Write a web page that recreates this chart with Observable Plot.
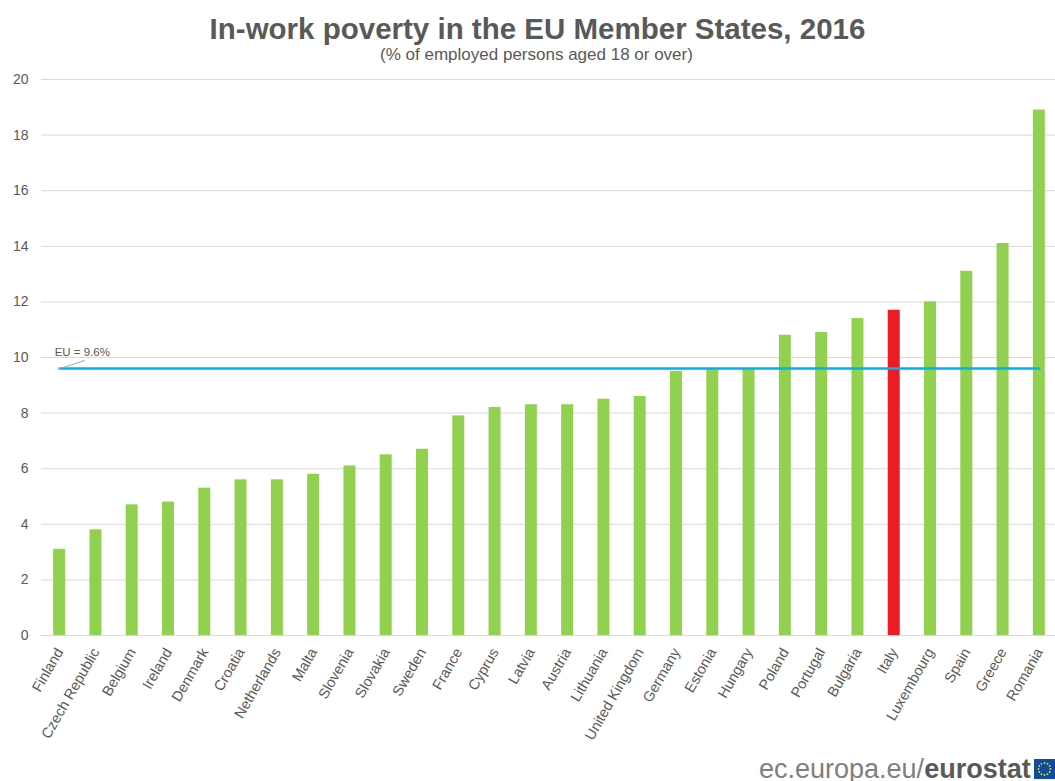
<!DOCTYPE html>
<html><head><meta charset="utf-8">
<script src="https://cdn.jsdelivr.net/npm/d3@7"></script>
<script src="https://cdn.jsdelivr.net/npm/@observablehq/plot@0.6"></script>
<style>
html,body{margin:0;padding:0;background:#fff;overflow:hidden}
body{width:1055px;height:781px;position:relative;font-family:"Liberation Sans",Arial,sans-serif;color:#595959}
#title{position:absolute;left:0;width:1075px;top:11px;text-align:center;font-weight:bold;font-size:29.5px;line-height:36px;white-space:nowrap}
#sub{position:absolute;left:0;width:1073px;top:45px;text-align:center;font-size:17px;line-height:20px;white-space:nowrap}
#chart{position:absolute;left:0;top:65px}
#foot{position:absolute;left:759px;top:752px;font-size:27px;line-height:34px;white-space:nowrap;color:#7f7f7f}
#foot b{color:#595959}
#flag{position:absolute;left:1034px;top:759px}
</style></head><body>
<div id="title">In-work poverty in the EU Member States, 2016</div>
<div id="sub">(% of employed persons aged 18 or over)</div>
<div id="chart"></div>
<div id="foot">ec.europa.eu/<b>eurostat</b></div>
<svg id="flag" width="21" height="20" viewBox="0 0 21 20">
<rect width="21" height="20" fill="#0f4c9e"/>
<g fill="#f5d90a" id="stars"></g>
</svg>
<script>
const countries = ["Finland","Czech Republic","Belgium","Ireland","Denmark","Croatia","Netherlands","Malta","Slovenia","Slovakia","Sweden","France","Cyprus","Latvia","Austria","Lithuania","United Kingdom","Germany","Estonia","Hungary","Poland","Portugal","Bulgaria","Italy","Luxembourg","Spain","Greece","Romania"];
const values = [3.1,3.8,4.7,4.8,5.3,5.6,5.6,5.8,6.1,6.5,6.7,7.9,8.2,8.3,8.3,8.5,8.6,9.5,9.6,9.6,10.8,10.9,11.4,11.7,12.0,13.1,14.1,18.9];
const euValue = 9.6;
const highlight = "Italy";
const yTicks = [0,2,4,6,8,10,12,14,16,18,20];

const rows = countries.map((c,i)=>({country:c,value:values[i]}));
const ends = [countries[0],countries[countries.length-1]].map(c=>({country:c,value:euValue}));
const leaderShape = {draw(ctx,l){ctx.moveTo(0,0);ctx.lineTo(0,-l);}};

const chart = Plot.plot({
  width:1055,height:690,
  marginTop:14,marginBottom:120,marginLeft:41,marginRight:0,
  style:{fontFamily:'"Liberation Sans",Arial,sans-serif',color:"#595959",background:"#fff"},
  x:{domain:countries,range:[41,1057],paddingInner:0.67,paddingOuter:0.335,align:0.5,round:false,label:null},
  y:{domain:[0,20],label:null},
  marks:[
    Plot.gridY(yTicks,{stroke:"#d9d9d9",strokeOpacity:1,strokeWidth:1}),
    Plot.barY(rows,{x:"country",y:"value",fill:d=>d.country===highlight?"#ed1c24":"#92d050"}),
    Plot.line(ends,{x:"country",y:"value",stroke:"#00b0f0",strokeWidth:2.5}),
    Plot.vector([ends[0]],{x:"country",y:"value",length:26,rotate:72,anchor:"start",shape:leaderShape,stroke:"#a6a6a6",strokeWidth:1}),
    Plot.text([{country:countries[0],value:10.18,label:"EU = "+euValue+"%"}],{x:"country",y:"value",text:"label",textAnchor:"start",dx:-5,fontSize:11.5,fill:"#595959"}),
    Plot.axisY({ticks:yTicks,tickSize:0,tickPadding:13,fontSize:14,label:null,color:"#595959"}),
    Plot.axisX({tickSize:0,tickPadding:14,tickRotate:-60,fontSize:14.5,label:null,color:"#595959"})
  ]
});
document.getElementById("chart").append(chart);

const s=document.getElementById("stars");
for(let k=0;k<12;k++){
  const a=k*Math.PI/6;
  const c=document.createElementNS("http://www.w3.org/2000/svg","circle");
  c.setAttribute("cx",10.5+6*Math.cos(a));c.setAttribute("cy",10+6*Math.sin(a));c.setAttribute("r",0.9);
  s.append(c);
}
</script>
</body></html>
